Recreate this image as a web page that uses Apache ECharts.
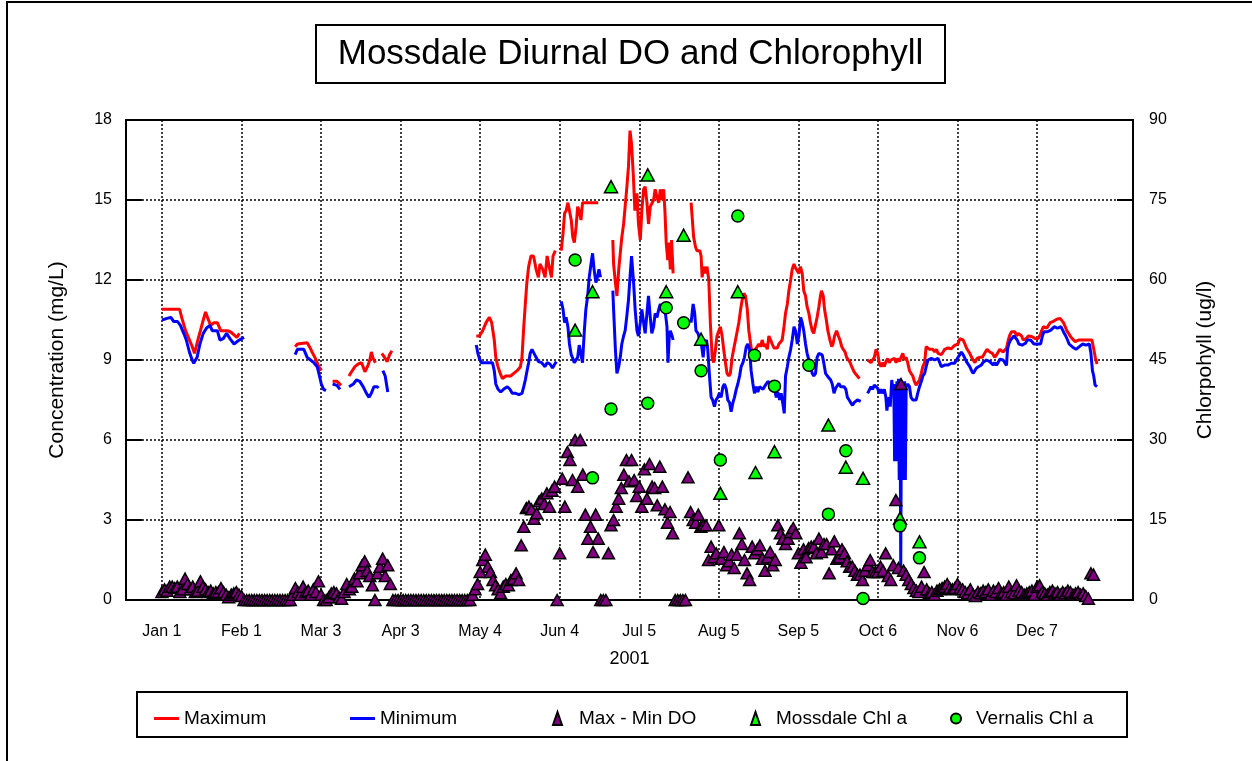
<!DOCTYPE html>
<html><head><meta charset="utf-8">
<script src="https://cdn.jsdelivr.net/npm/echarts@6/dist/echarts.min.js"></script>
<style>html,body{margin:0;padding:0;background:#fff}#c{width:1252px;height:761px}</style>
</head><body><div id="c"></div>
<script>
const titleText = 'Mossdale Diurnal DO and Chlorophyll';
const tickDays = [0,31,62,93,124,155,186,217,248,279,310,341];
const tickLabels = ['Jan 1','Feb 1','Mar 3','Apr 3','May 4','Jun 4','Jul 5','Aug 5','Sep 5','Oct 6','Nov 6','Dec 7'];

// Maximum DO (mg/L) as [day since Jan 1, value]; null = gap
const maxDO = [
[0,10.9],[6.9,10.9],[7.8,10.56],[9.2,10.1],[10.5,9.8],[11.8,9.5],[12.7,9.25],[14,9.75],[15,10.1],[16.1,10.5],[17,10.8],[17.9,10.56],[19,10.3],[20.3,10.4],[21.6,10.4],[22.9,10.1],[24.2,10.1],[25.5,10.1],[26.8,10.05],[28.1,9.94],[29.2,9.85],[30.2,10.0],
[40,null],
[51.9,9.5],[52.8,9.6],[53.4,9.65],[56.6,9.65],[57.5,9.5],[58.5,9.3],[59.8,9.06],[61.1,8.75],[62.1,8.6],
[64,null],
[66.5,8.2],[68.2,8.2],[69.8,8.05],
[71,null],
[72.9,8.4],[73.9,8.56],[75.2,8.75],[76.5,8.85],[77.8,8.9],[79.1,8.56],[80.1,8.75],[81,9.0],[81.6,9.3],[82.3,9.06],[83.2,8.9],
[84.5,null],
[85.7,9.25],[87,9.06],[87.8,8.94],[88.7,9.2],[89.6,9.35],
[100,null],
[122.5,9.9],[123.7,9.9],[125,10.1],[126.3,10.4],[127.6,10.6],[128.5,10.4],[129.5,9.75],[130.1,9.1],[130.8,8.8],[131.8,8.5],[132.7,8.3],[134,8.4],[135.9,8.4],[137.1,8.5],[138.4,8.6],[139.7,8.75],[140.3,9.1],[141,10.25],[141.6,11.1],[142.2,11.9],[142.9,12.5],[143.8,12.9],[144.8,12.9],[145.8,12.4],[146.7,12.1],[147.3,12.6],[148.4,12.4],[149.3,12.1],[150.1,12.9],[150.9,12.5],[151.8,12.1],[152.4,12.9],[153.3,13.1],
[154.5,null],
[155.6,13.1],[156.3,13.75],[156.9,14.5],[157.5,14.6],[158.2,14.9],[158.8,14.6],[159.5,14.25],[160.1,13.6],[160.7,13.4],[161.4,14],[162,14.75],[162.6,14.6],[163.3,14.25],[163.9,14.9],[165.2,14.9],[167.8,14.9],[170,14.9],
[173,null],
[175.7,13.5],[176,12.6],[176.7,11.9],[177.3,11.4],[178,12.4],[178.6,13],[179.2,13.6],[179.9,14.1],[180.5,14.75],[181.1,15.4],[181.8,16.25],[182.4,17.6],[183,17.1],[183.7,15.9],[184.3,14.6],[185.1,15.25],[185.7,14.1],[186.4,13.5],[187,14.6],[187.7,15.4],[188.3,15.5],[189,14.9],[189.6,14.1],[190.3,14.75],[190.9,14.8],[191.6,15],[192.2,15.4],[192.9,15.1],[193.6,14.9],[194.2,15.4],[194.9,15],[195.5,15.4],[196,14.6],[196.5,13.4],[197.1,12.75],[197.6,13.4],[198.1,12.4],[198.6,13.5],[199.2,12.25],
[202,null],
[206.2,14.9],[206.7,14.25],[207.2,13.6],[207.9,13.25],[208.5,13.1],[209.6,13.1],[210.1,12.9],[210.5,12.1],[211.1,12.5],[211.8,12.25],[212.4,12.5],[213.1,12],[213.7,10.4],[214.4,9.1],[215,8.9],[215.7,9.4],[216.3,9.9],[217,10.1],[217.6,10.25],[218.3,9.9],[218.9,9.4],[219.6,8.9],[220.2,8.5],[220.9,8.4],[221.5,8.5],[222.2,9.1],[222.8,9.4],[223.5,9.75],[224.2,10.1],[224.8,10.4],[225.5,10.9],[226.1,11.25],[226.8,11.5],[227.4,11.4],[228.1,10.9],[228.7,10.1],[229.4,9.6],[230,9.2],[230.7,9],[231.3,9.4],[232,9.45],[232.6,9.6],[233.3,9.5],[233.9,9.75],[234.6,9.5],[235.2,9.6],[235.9,9.4],[236.5,9.9],[237.2,9.75],[237.8,9.6],[238.5,9.45],[239.1,9.4],[239.8,9.45],[240.4,9.6],[241.1,9.6],[241.7,9.75],[242.4,10.25],[243,10.75],[243.7,11.1],[244.3,11.6],[245,12],[245.6,12.4],[246.3,12.6],[246.9,12.45],[247.6,12.5],[248.2,12.25],[248.8,12.5],[249.5,12.25],[250.1,11.6],[250.8,11.4],[251.4,11],[252.1,10.75],[252.7,10.4],[253.4,10.1],[254,10],[254.7,10.05],[255.3,10.6],[256,11],[256.6,11.4],[257,11.6],[257.7,11.4],[258.2,10.9],[258.9,10.5],[259.5,10.1],[260.3,9.75],[261,9.5],[261.5,9.6],[262.1,9.9],[262.9,10.1],[263.6,9.9],[264.2,9.75],[264.9,9.5],[265.5,9.4],[266.2,9.3],[266.8,9.1],[267.5,9.0],[268.2,8.9],[268.8,8.75],[269.5,8.6],[270.1,8.5],[271,8.4],[271.8,8.3],
[273.5,null],
[275,9.0],[275.6,9.06],[276.3,8.9],[276.9,9.0],[277.6,9.1],[278.3,9.4],[278.9,9.25],[279.5,8.9],[280.2,8.75],[280.8,8.9],[281.5,8.75],[282.1,8.94],[282.8,9.06],[283.4,8.9],[284.1,9.0],[284.8,8.94],[285.4,9.06],[286.1,8.9],[286.7,9.06],[287.4,8.94],[288,9.1],[288.7,9.25],[289.3,9.0],[290,9.1],[290.6,8.9],[291.3,8.6],[291.9,8.5],[292.6,8.4],[293.2,8.2],[293.9,8.06],[294.6,8.12],[295.2,8.25],[295.9,8.5],[296.5,8.75],[297.2,8.9],[297.8,9.5],[298.5,9.55],[299.1,9.4],[299.8,9.42],[300.4,9.4],[301.1,9.3],[301.8,9.4],[302.4,9.25],[303.1,9.25],[303.7,9.2],[304.4,9.3],[305,9.4],[305.7,9.42],[306.3,9.45],[307,9.45],[307.6,9.42],[308.3,9.45],[308.9,9.55],[309.6,9.55],[310.2,9.6],[310.9,9.8],[311.5,9.8],[312.2,9.75],[312.9,9.6],[313.5,9.45],[314.2,9.45],[314.8,9.25],[315.5,9.1],[316.1,9.0],[316.8,8.9],[317.6,9.06],[318.6,9.1],[319.7,9.1],[320.6,9.25],[321.5,9.4],[322.6,9.3],[323.6,9.25],[324.5,9.1],[325.2,9.19],[325.8,9.25],[326.5,9.4],[327.1,9.38],[327.8,9.3],[328.5,9.35],[329.1,9.44],[329.8,9.75],[330.4,9.94],[331.1,10.06],[331.7,10.1],[332.4,10.06],[333,9.9],[333.7,10],[334.3,10.06],[335,9.9],[335.6,9.75],[336.3,9.78],[336.9,9.81],[337.6,9.9],[338.3,9.88],[338.9,9.88],[339.6,9.9],[340.2,9.81],[340.9,9.83],[341.5,9.81],[342.2,9.94],[342.8,10.1],[343.5,10.25],[344.1,10.28],[344.8,10.19],[345.4,10.25],[346.1,10.4],[346.8,10.42],[347.4,10.45],[348.1,10.5],[348.7,10.53],[349.4,10.5],[350,10.56],[350.7,10.53],[351.3,10.4],[352,10.25],[352.6,10.1],[353.3,10],[353.9,9.9],[354.6,9.81],[355.2,9.75],[355.9,9.69],[356.6,9.75],[357.2,9.75],[357.9,9.75],[358.5,9.75],[359.2,9.75],[359.8,9.75],[360.5,9.75],[361.1,9.75],[361.8,9.75],[362.4,9.75],[363.1,9.4],[363.7,9.1],[364.4,8.85]
];

// Minimum DO (mg/L)
const minDO = [
[0,10.5],[2,10.56],[3.5,10.6],[4.6,10.44],[6.1,10.44],[7.2,10.3],[8.5,10.0],[9.5,9.75],[10.7,9.3],[11.8,9.0],[12.4,8.875],[13.7,9.1],[14.8,9.6],[16.1,10.0],[17.4,10.2],[18.7,10.3],[19.6,10.1],[21.6,10.1],[22.6,9.75],[23.9,9.8],[25.2,10.0],[26.5,9.8],[28.1,9.6],[29.4,9.7],[31,9.8],[32,9.85],
[40,null],
[51.9,9.2],[52.8,9.4],[54,9.4],[55.3,9.4],[56.6,9.1],[57.9,9.0],[59.2,8.9],[60.5,8.75],[61.4,8.4],[62.1,8.1],[63,7.9],[63.9,7.85],
[65,null],
[66.5,8.1],[68.2,8.05],[69.4,7.9],
[71,null],
[72.9,8.0],[74.6,8.1],[75.8,8.25],[77.1,8.2],[78.4,8.0],[79.7,7.75],[80.7,7.6],[81.6,7.75],[82.6,8.0],[83.9,8.0],[84.4,7.95],
[85.2,null],
[86.1,8.6],[87,8.4],[88,7.8],
[100,null],
[122.5,9.56],[123.1,9.25],[123.7,9.06],[124.4,8.9],[125.7,8.9],[127.6,8.9],[128.8,8.9],[129.5,8.6],[130.1,8.1],[131,7.9],[132,7.8],[133.1,7.9],[134.6,8.0],[135.6,7.9],[136.5,7.75],[137.8,7.75],[139.1,7.7],[140.3,7.75],[141,8.0],[141.6,8.25],[142.2,8.56],[142.9,8.9],[143.5,9.25],[144.2,9.4],[144.8,9.35],[145.8,9.1],[146.7,8.94],[148,8.9],[149.3,8.75],[150.1,8.9],[151.2,8.85],[152.2,8.7],[153.1,8.85],[153.7,8.94],
[154.5,null],
[155.6,11.2],[156.3,10.9],[156.9,10.4],[157.5,10.6],[158.2,10.25],[158.8,9.6],[159.5,9.2],[160.1,9.06],[160.7,8.9],[161.4,8.95],[162,9.1],[162.6,9.56],[163.3,9.56],[163.9,8.9],[164.6,10.1],[165.2,10.9],[165.9,11.4],[166.5,12.1],[167.2,12.6],[167.8,13],[168.4,12.4],[169.1,11.9],[169.7,12.1],[170.3,12.4],[170.9,12.1],
[173,null],
[175.7,11.6],[176,10.9],[176.7,9.4],[177.3,8.5],[178,8.75],[178.6,9.1],[179.2,9.6],[179.9,9.9],[180.5,10.1],[181.1,10.6],[181.8,11.25],[182.4,12.1],[183,12.9],[183.8,11.9],[184.4,10.9],[185.1,10.1],[185.7,9.9],[186.4,10.4],[187,10.9],[187.7,10.4],[188.3,10],[189,10.75],[189.6,11.4],[190.3,10.6],[190.9,10],[191.6,10.25],[192.2,10.75],[192.9,10.6],[193.6,10.9],[194.2,11.1],[194.9,10.9],[195.5,11],[196.2,10.75],[196.8,10.25],[197.2,8.9],[197.7,9.9],[198.1,10.1],[198.8,9.9],[199.2,9.75],
[202,null],
[206.2,10.4],[207,11.1],[207.6,10.75],[208.1,10.1],[208.9,10.0],[209.6,9.75],[210.2,9.6],[210.9,9.1],[211.4,9.6],[212.2,9.75],[212.7,9.4],[213.3,8.5],[214,7.6],[214.6,7.5],[215.3,7.25],[215.9,7.5],[216.6,7.6],[217.2,7.75],[217.9,7.6],[218.6,8.0],[219.2,8.1],[219.9,7.9],[220.5,7.5],[221.2,7.4],[221.8,7.06],[222.5,7.4],[223.1,7.6],[223.8,7.9],[224.4,8.1],[225.1,8.4],[225.7,8.75],[226.4,8.9],[227,9.1],[227.7,9.5],[228.3,9.6],[229,9.4],[229.6,8.6],[230.3,8.1],[230.9,7.75],[231.6,8.0],[232.2,7.8],[232.9,8.0],[233.5,7.97],[234.2,7.9],[234.8,8.0],[235.5,8.06],[236.1,8.19],[236.8,8.25],[237.4,8.12],[238.1,8.0],[238.7,7.9],[239.4,7.6],[240,7.8],[240.7,7.5],[241.3,7.75],[241.9,7.4],[242.5,7.0],[243,8.4],[243.7,8.75],[244.3,9.1],[245,9.4],[245.6,9.75],[246.3,10.25],[246.9,10.1],[247.6,9.6],[248.2,9.9],[248.9,10.6],[249.5,10.4],[250.1,10.1],[250.8,9.6],[251.4,9.25],[252.1,9.0],[252.7,8.75],[253.4,8.5],[254,8.4],[254.7,8.5],[255.3,9.1],[256,9.25],[256.6,9.19],[257.3,9.19],[257.9,8.9],[258.6,8.5],[259.3,8.4],[259.9,8.4],[260.6,8.25],[261.2,8.1],[261.9,7.75],[262.5,7.94],[263.2,8.0],[263.8,8.12],[264.5,8.0],[265.1,8.06],[265.8,8.0],[266.5,7.9],[267.1,7.6],[267.8,7.5],[268.4,7.4],[269.1,7.3],[269.7,7.4],[270.4,7.45],[271,7.5],[271.7,7.45],[272.3,7.45],
[273.5,null],
[275,7.75],[275.6,7.81],[276.3,8.0],[276.9,7.9],[277.6,8.06],[278.2,8.1],[278.9,7.94],[279.5,7.75],[280.2,7.9],[280.8,7.75],[281.5,7.9],[282.1,7.6],[282.5,7.1],[283,7.5],[283.4,7.6],[283.8,7.25],[284.4,8.25],[284.8,7.9],[285.2,8.0],[285.5,5.2],[285.8,8.1],[286.1,5.2],[286.4,8.2],[286.7,5.2],[287,8.3],[287.3,4.5],[287.6,8.3],[287.9,1.2],[288.2,8.2],[288.5,4.5],[288.8,8.1],[289.1,4.5],[289.4,8.2],[289.7,4.5],[290,8.0],[290.6,8.1],[291.3,8.0],[291.9,7.6],[292.6,7.5],[293.2,7.5],[293.9,7.5],[294.5,7.75],[295.2,8.0],[295.9,8.19],[296.5,8.4],[297.2,8.5],[297.8,8.75],[298.5,9.0],[299.1,9.06],[299.8,9.06],[300.4,9.06],[301.1,9.0],[301.8,9.06],[302.4,9.06],[303.1,8.9],[303.7,8.75],[304.4,8.75],[305,8.81],[305.7,8.81],[306.3,8.81],[307,8.81],[307.6,8.88],[308.3,8.81],[308.9,8.88],[309.6,9.0],[310.2,9.06],[310.9,9.2],[311.5,9.3],[312.2,9.2],[312.9,9.06],[313.5,8.94],[314.2,8.9],[314.8,8.75],[315.5,8.6],[316.1,8.5],[316.8,8.55],[317.4,8.7],[318.1,8.75],[319.3,8.81],[319.9,8.9],[320.6,8.94],[321.3,9.0],[321.9,9.06],[322.6,8.94],[323.2,8.9],[323.9,8.81],[324.5,8.9],[325.2,8.81],[325.8,8.9],[326.5,9.03],[327.1,9.06],[327.8,9.0],[328.5,8.94],[329.1,8.8],[329.5,9.4],[330,9.6],[330.7,9.75],[331.3,9.81],[332,9.9],[332.6,9.9],[333.3,9.75],[333.9,9.6],[334.6,9.56],[335.2,9.56],[335.9,9.6],[336.5,9.63],[337.2,9.75],[337.9,9.75],[338.5,9.75],[339.2,9.69],[339.8,9.6],[340.5,9.6],[341.1,9.6],[341.8,9.56],[342.4,9.6],[343.1,9.9],[343.7,10.06],[344.4,10.06],[345.1,10.06],[345.7,10.1],[346.4,10.12],[347,10.12],[347.7,10.25],[348.4,10.25],[349,10.19],[349.7,10.25],[350.3,10.25],[351,10.12],[351.6,10.0],[352.2,9.9],[352.9,9.75],[353.5,9.6],[354.2,9.56],[354.9,9.48],[355.5,9.44],[356.2,9.4],[356.8,9.44],[357.5,9.5],[358.1,9.56],[358.8,9.6],[359.4,9.6],[360.1,9.56],[360.7,9.6],[361.4,9.6],[362,9.25],[362.6,8.6],[363.1,8.4],[363.6,8.06],[364.4,8.0]
];

// Max - Min DO (mg/L), one value per day starting Jan 1
const dodDaily = [
0.3,0.4,0.35,0.5,0.5,0.45,0.5,0.3,0.4,0.8,
0.6,0.4,0.5,0.3,0.35,0.7,0.5,0.4,0.3,0.35,
0.25,0.3,0.3,0.45,0.3,0.2,0.1,0.2,0.25,0.3,
0.2,0.15,0,0,0,0,0,0,0,0,
0,0,0,0,0,0,0,0,0,0,
0,0.2,0.45,0.3,0.2,0.5,0.3,0.35,0.2,0.4,
0.3,0.7,0.2,0,0,0.1,0.25,0.3,0.25,0.1,
0.05,0.3,0.6,0.4,0.5,0.8,0.7,1.0,1.3,1.45,
1.1,0.9,0.55,0,1.0,1.25,1.55,0.9,1.3,0.6,
0,0,0,0,0,0,0,0,0,0,
0,0,0,0,0,0,0,0,0,0,
0,0,0,0,0,0,0,0,0,0,
0,0.2,0.4,0.6,1.05,1.5,1.7,1.25,1.05,0.75,
0.55,0.4,0.25,0.5,0.6,0.55,0.75,0.8,1.0,0.75,
2.05,2.75,3.45,3.5,3.4,3.05,3.25,3.7,3.8,3.6,
4.0,3.5,4.1,4.25,0,1.75,4.55,3.5,5.55,5.25,
4.5,6.0,4.25,6.0,4.7,3.2,2.3,2.75,1.8,3.2,
2.3,0,0,0,1.75,2.8,3.0,3.5,3.8,4.2,
4.7,5.25,4.45,5.25,4.5,3.9,4.25,3.5,4.9,3.8,
5.1,4.25,4.2,3.55,5.0,4.25,3.4,2.9,3.3,2.5,
0,0,0,0,0,4.6,3.3,3.0,2.9,3.2,
2.75,2.8,2.8,1.5,2.0,1.6,1.75,2.8,1.55,1.8,
1.3,1.45,1.7,1.2,1.7,2.5,2.1,1.5,1.0,0.75,
2.0,1.75,1.9,2.05,1.55,1.1,1.6,1.8,1.3,1.5,
2.8,2.5,2.3,2.1,2.3,2.55,2.7,2.5,1.75,1.4,
1.9,1.6,1.95,2.0,2.0,1.75,2.3,1.8,2.1,2.1,
1.0,1.9,2.2,1.55,1.6,1.9,1.75,1.45,1.25,1.25,
1.1,0.95,0.95,0.75,1.1,1.3,1.5,1.05,1.05,1.05,
1.25,1.1,1.75,0.9,0.75,1.3,3.75,1.2,8.1,1.1,
0.95,0.75,0.6,0.45,0.35,0.3,0.5,1.05,0.4,0.25,
0.3,0.2,0.35,0.4,0.45,0.5,0.6,0.45,0.4,0.45,
0.6,0.45,0.4,0.3,0.25,0.4,0.2,0.15,0.3,0.25,
0.35,0.3,0.4,0.2,0.35,0.3,0.45,0.25,0.3,0.2,
0.5,0.3,0.25,0.55,0.35,0.3,0.2,0.25,0.3,0.35,
0.2,0.5,0.55,0.3,0.25,0.2,0.3,0.35,0.25,0.3,
0.2,0.3,0.25,0.35,0.3,0.2,0.25,0.3,0.2,0.25,
0.15,0.05,1.0,0.95
];

// Chlorophyll a (ug/l), right axis
const mossdaleChl = [[161,50.6],[167.8,57.8],[175,77.5],[189.3,79.7],[196.5,57.8],[203.3,68.4],[210.1,48.9],[217.6,20],[224.4,57.8],[231.3,23.9],[238.7,27.8],[259.7,32.8],[266.5,24.9],[273.2,22.8],[287.6,15.3],[295.2,10.9]];
const vernalisChl = [[161,63.75],[167.8,22.9],[175,35.8],[189.3,36.9],[196.5,54.8],[203.3,52],[210.1,43],[217.6,26.25],[224.4,72],[230.9,45.9],[238.7,40.1],[252.1,44],[259.7,16.1],[266.5,28],[273.2,0.3],[287.6,13.9],[295.2,7.9]];

const FONT = 'Liberation Sans, Arial, sans-serif';
const dodData = dodDaily.map((v, i) => [i, v]);
const gridLine = { show: true, lineStyle: { color: '#000', type: [2, 2], width: 1.5 } };

const chart = echarts.init(document.getElementById('c'), null, { renderer: 'canvas' });
const legendBase = { top: 704, itemGap: 0, textStyle: { fontSize: 19, fontFamily: FONT, color: '#000' } };
chart.setOption({
  animation: false,
  backgroundColor: '#fff',
  textStyle: { fontFamily: FONT },
  graphic: [
    { type: 'rect', shape: { x: 7, y: 2, width: 1300, height: 800 }, style: { fill: 'none', stroke: '#000', lineWidth: 2 }, silent: true, z: -10 },
    { type: 'rect', shape: { x: 316, y: 25, width: 629, height: 58 }, style: { fill: '#fff', stroke: '#000', lineWidth: 2 }, silent: true },
    { type: 'text', x: 630.5, y: 54, style: { text: titleText, font: '35px ' + FONT, fill: '#000', textAlign: 'center', textVerticalAlign: 'middle' }, silent: true },
    { type: 'rect', shape: { x: 137, y: 692, width: 990, height: 45 }, style: { fill: 'none', stroke: '#000', lineWidth: 2 }, silent: true }
  ],
  legend: [
    Object.assign({}, legendBase, { left: 149, data: [{ name: 'Maximum', icon: 'rect' }], itemWidth: 25, itemHeight: 3, textStyle: Object.assign({}, legendBase.textStyle, { padding: [0, 0, 0, 0] }) }),
    Object.assign({}, legendBase, { left: 345, data: [{ name: 'Minimum', icon: 'rect' }], itemWidth: 25, itemHeight: 3, textStyle: Object.assign({}, legendBase.textStyle, { padding: [0, 0, 0, 0] }) }),
    Object.assign({}, legendBase, { left: 547, data: [{ name: 'Max - Min DO', icon: 'triangle' }], itemWidth: 9, itemHeight: 13, textStyle: Object.assign({}, legendBase.textStyle, { padding: [0, 0, 0, 12] }) }),
    Object.assign({}, legendBase, { left: 745, data: [{ name: 'Mossdale Chl a', icon: 'triangle' }], itemWidth: 9, itemHeight: 13, textStyle: Object.assign({}, legendBase.textStyle, { padding: [0, 0, 0, 11] }) }),
    Object.assign({}, legendBase, { left: 945, data: [{ name: 'Vernalis Chl a', icon: 'circle' }], itemWidth: 10, itemHeight: 12, textStyle: Object.assign({}, legendBase.textStyle, { padding: [0, 0, 0, 10] }) })
  ],
  grid: { left: 126, right: 119, top: 120, bottom: 161, show: true, borderColor: '#000', borderWidth: 2, backgroundColor: 'transparent' },
  xAxis: {
    type: 'value', min: -14, max: 378.4,
    name: '2001', nameLocation: 'middle', nameGap: 50,
    nameTextStyle: { fontSize: 18, color: '#000', fontFamily: FONT },
    axisLine: { show: true, onZero: false, lineStyle: { color: '#000', width: 2 } },
    axisTick: { show: false, customValues: tickDays },
    axisLabel: { customValues: tickDays, formatter: v => tickLabels[tickDays.indexOf(v)] || '', fontSize: 16, color: '#000', margin: 24, fontFamily: FONT },
    splitLine: gridLine
  },
  yAxis: [
    {
      type: 'value', min: 0, max: 18, interval: 3, position: 'left',
      name: 'Concentration (mg/L)', nameLocation: 'middle', nameGap: 58,
      nameTextStyle: { fontSize: 21, color: '#000', fontFamily: FONT },
      axisLine: { show: true, onZero: false, lineStyle: { color: '#000', width: 2 } },
      axisTick: { show: true, inside: true, length: 16, lineStyle: { color: '#000', width: 2 } },
      axisLabel: { fontSize: 16, color: '#000', margin: 14, fontFamily: FONT },
      splitLine: gridLine
    },
    {
      type: 'value', min: 0, max: 90, interval: 15, position: 'right',
      name: 'Chlorpohyll (ug/l)', nameLocation: 'middle', nameGap: 62,
      nameTextStyle: { fontSize: 21, color: '#000', fontFamily: FONT },
      axisLine: { show: true, onZero: false, lineStyle: { color: '#000', width: 2 } },
      axisTick: { show: true, inside: true, length: 16, lineStyle: { color: '#000', width: 2 } },
      axisLabel: { fontSize: 16, color: '#000', margin: 16, fontFamily: FONT },
      splitLine: { show: false }
    }
  ],
  series: [
    { name: 'Maximum', type: 'line', data: maxDO, yAxisIndex: 0, showSymbol: false, symbol: 'none', connectNulls: false,
      itemStyle: { color: '#ff0000' }, lineStyle: { color: '#ff0000', width: 3 }, z: 3 },
    { name: 'Minimum', type: 'line', data: minDO, yAxisIndex: 0, showSymbol: false, symbol: 'none', connectNulls: false,
      itemStyle: { color: '#0000ff' }, lineStyle: { color: '#0000ff', width: 3 }, z: 3 },
    { name: 'Max - Min DO', type: 'scatter', data: dodData, yAxisIndex: 0, symbol: 'triangle', symbolSize: [12, 11],
      itemStyle: { color: '#800080', borderColor: '#000', borderWidth: 1.5, opacity: 1 }, z: 4 },
    { name: 'Mossdale Chl a', type: 'scatter', data: mossdaleChl, yAxisIndex: 1, symbol: 'triangle', symbolSize: [13, 12],
      itemStyle: { color: '#00ff00', borderColor: '#000', borderWidth: 1.5, opacity: 1 }, z: 5 },
    { name: 'Vernalis Chl a', type: 'scatter', data: vernalisChl, yAxisIndex: 1, symbol: 'circle', symbolSize: 12,
      itemStyle: { color: '#00ff00', borderColor: '#000', borderWidth: 1.5, opacity: 1 }, z: 6 }
  ]
});
</script></body></html>
